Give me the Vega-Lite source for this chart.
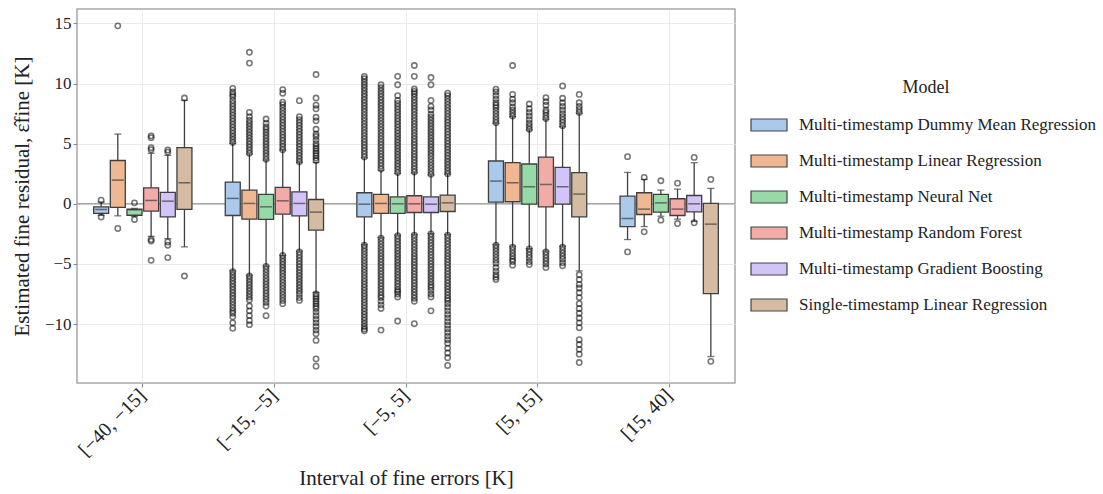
{
"$schema":"https://vega.github.io/schema/vega-lite/v6.json",
"width":658,"height":374,
"autosize":{"type":"none"},
"padding":{"left":77,"top":9,"right":368,"bottom":111},
"background":"white",
"config":{
 "font":"Liberation Serif",
 "view":{"stroke":"#a8a8a8","strokeWidth":1.5},
 "axis":{"labelFont":"Liberation Serif","titleFont":"Liberation Serif","labelColor":"#222","titleColor":"#222","titleFontWeight":"normal","gridColor":"#e6e6e6","gridWidth":0.8,"domain":false,"tickColor":"#888","tickSize":4,"labelFontSize":17,"titleFontSize":21}
},
"datasets":{
"boxes":[
{"k":"1A","interval":"[−40, −15]","model":"Multi-timestamp Dummy Mean Regression","lo":-0.95,"q1":-0.8,"med":-0.47,"q3":-0.25,"hi":0.15},
{"k":"1B","interval":"[−40, −15]","model":"Multi-timestamp Linear Regression","lo":-1.0,"q1":-0.3,"med":1.97,"q3":3.6,"hi":5.8},
{"k":"1C","interval":"[−40, −15]","model":"Multi-timestamp Neural Net","lo":-1.05,"q1":-0.95,"med":-0.5,"q3":-0.45,"hi":-0.38},
{"k":"1D","interval":"[−40, −15]","model":"Multi-timestamp Random Forest","lo":-2.7,"q1":-0.6,"med":0.28,"q3":1.33,"hi":4.2},
{"k":"1E","interval":"[−40, −15]","model":"Multi-timestamp Gradient Boosting","lo":-2.9,"q1":-1.08,"med":0.22,"q3":0.95,"hi":4.03},
{"k":"1F","interval":"[−40, −15]","model":"Single-timestamp Linear Regression","lo":-3.58,"q1":-0.47,"med":1.75,"q3":4.67,"hi":8.6},
{"k":"2A","interval":"[−15, −5]","model":"Multi-timestamp Dummy Mean Regression","lo":-5.58,"q1":-0.97,"med":0.45,"q3":1.81,"hi":5.03},
{"k":"2B","interval":"[−15, −5]","model":"Multi-timestamp Linear Regression","lo":-5.94,"q1":-1.28,"med":0.03,"q3":1.14,"hi":4.14},
{"k":"2C","interval":"[−15, −5]","model":"Multi-timestamp Neural Net","lo":-5.17,"q1":-1.3,"med":-0.25,"q3":0.78,"hi":3.64},
{"k":"2D","interval":"[−15, −5]","model":"Multi-timestamp Random Forest","lo":-4.28,"q1":-0.86,"med":0.25,"q3":1.36,"hi":4.47},
{"k":"2E","interval":"[−15, −5]","model":"Multi-timestamp Gradient Boosting","lo":-3.94,"q1":-1.0,"med":0.03,"q3":1.0,"hi":3.44},
{"k":"2F","interval":"[−15, −5]","model":"Single-timestamp Linear Regression","lo":-7.39,"q1":-2.19,"med":-0.69,"q3":0.36,"hi":3.44},
{"k":"3A","interval":"[−5, 5]","model":"Multi-timestamp Dummy Mean Regression","lo":-3.39,"q1":-1.08,"med":-0.03,"q3":0.92,"hi":3.83},
{"k":"3B","interval":"[−5, 5]","model":"Multi-timestamp Linear Regression","lo":-2.8,"q1":-0.8,"med":0.03,"q3":0.78,"hi":2.8},
{"k":"3C","interval":"[−5, 5]","model":"Multi-timestamp Neural Net","lo":-2.6,"q1":-0.8,"med":0.0,"q3":0.58,"hi":2.53},
{"k":"3D","interval":"[−5, 5]","model":"Multi-timestamp Random Forest","lo":-2.55,"q1":-0.72,"med":0.0,"q3":0.67,"hi":2.58},
{"k":"3E","interval":"[−5, 5]","model":"Multi-timestamp Gradient Boosting","lo":-2.47,"q1":-0.72,"med":-0.03,"q3":0.58,"hi":2.4},
{"k":"3F","interval":"[−5, 5]","model":"Single-timestamp Linear Regression","lo":-2.55,"q1":-0.64,"med":0.08,"q3":0.72,"hi":2.47},
{"k":"4A","interval":"[5, 15]","model":"Multi-timestamp Dummy Mean Regression","lo":-3.39,"q1":0.14,"med":1.89,"q3":3.56,"hi":6.7},
{"k":"4B","interval":"[5, 15]","model":"Multi-timestamp Linear Regression","lo":-3.53,"q1":0.17,"med":1.75,"q3":3.42,"hi":7.25},
{"k":"4C","interval":"[5, 15]","model":"Multi-timestamp Neural Net","lo":-3.72,"q1":-0.03,"med":1.42,"q3":3.31,"hi":6.14},
{"k":"4D","interval":"[5, 15]","model":"Multi-timestamp Random Forest","lo":-3.94,"q1":-0.25,"med":1.61,"q3":3.89,"hi":7.03},
{"k":"4E","interval":"[5, 15]","model":"Multi-timestamp Gradient Boosting","lo":-3.53,"q1":-0.03,"med":1.42,"q3":3.03,"hi":6.42},
{"k":"4F","interval":"[5, 15]","model":"Single-timestamp Linear Regression","lo":-5.58,"q1":-1.08,"med":0.81,"q3":2.59,"hi":7.53},
{"k":"5A","interval":"[15, 40]","model":"Multi-timestamp Dummy Mean Regression","lo":-2.97,"q1":-1.89,"med":-1.22,"q3":0.64,"hi":2.61},
{"k":"5B","interval":"[15, 40]","model":"Multi-timestamp Linear Regression","lo":-1.89,"q1":-0.89,"med":-0.44,"q3":0.92,"hi":2.03},
{"k":"5C","interval":"[15, 40]","model":"Multi-timestamp Neural Net","lo":-1.03,"q1":-0.69,"med":0.08,"q3":0.78,"hi":1.14},
{"k":"5D","interval":"[15, 40]","model":"Multi-timestamp Random Forest","lo":-1.28,"q1":-0.97,"med":-0.44,"q3":0.42,"hi":1.22},
{"k":"5E","interval":"[15, 40]","model":"Multi-timestamp Gradient Boosting","lo":-1.47,"q1":-0.67,"med":0.0,"q3":0.69,"hi":3.42},
{"k":"5F","interval":"[15, 40]","model":"Single-timestamp Linear Regression","lo":-12.7,"q1":-7.47,"med":-1.69,"q3":0.03,"hi":1.28}
],
"outl":[
{"k":"1A","v":0.3},{"k":"1A","v":-1.1},
{"k":"1B","v":14.8},{"k":"1B","v":-2.05},
{"k":"1C","v":0.08},{"k":"1C","v":-1.3},
{"k":"1D","v":5.65},{"k":"1D","v":5.5},{"k":"1D","v":4.67},{"k":"1D","v":4.5},{"k":"1D","v":-2.97},{"k":"1D","v":-3.1},{"k":"1D","v":-4.7},
{"k":"1E","v":4.47},{"k":"1E","v":4.3},{"k":"1E","v":-3.17},{"k":"1E","v":-3.44},{"k":"1E","v":-4.47},
{"k":"1F","v":8.8},{"k":"1F","v":-6.0},
{"k":"2A","v":5.1},{"k":"2A","v":5.35},{"k":"2A","v":5.6},{"k":"2A","v":5.85},{"k":"2A","v":6.1},{"k":"2A","v":6.35},{"k":"2A","v":6.6},{"k":"2A","v":6.85},{"k":"2A","v":7.1},{"k":"2A","v":7.35},{"k":"2A","v":7.6},{"k":"2A","v":7.85},{"k":"2A","v":8.1},{"k":"2A","v":8.35},{"k":"2A","v":8.6},{"k":"2A","v":8.9},{"k":"2A","v":9.1},{"k":"2A","v":9.3},{"k":"2A","v":9.6},
{"k":"2A","v":-5.65},{"k":"2A","v":-5.9},{"k":"2A","v":-6.15},{"k":"2A","v":-6.4},{"k":"2A","v":-6.65},{"k":"2A","v":-6.9},{"k":"2A","v":-7.15},{"k":"2A","v":-7.4},{"k":"2A","v":-7.65},{"k":"2A","v":-7.9},{"k":"2A","v":-8.15},{"k":"2A","v":-8.4},{"k":"2A","v":-8.65},{"k":"2A","v":-8.9},{"k":"2A","v":-9.1},{"k":"2A","v":-9.4},{"k":"2A","v":-9.9},{"k":"2A","v":-10.35},
{"k":"2B","v":4.2},{"k":"2B","v":4.45},{"k":"2B","v":4.7},{"k":"2B","v":4.95},{"k":"2B","v":5.2},{"k":"2B","v":5.45},{"k":"2B","v":5.7},{"k":"2B","v":5.95},{"k":"2B","v":6.2},{"k":"2B","v":6.45},{"k":"2B","v":6.7},{"k":"2B","v":6.95},{"k":"2B","v":7.25},{"k":"2B","v":7.6},{"k":"2B","v":11.7},{"k":"2B","v":12.6},
{"k":"2B","v":-6.0},{"k":"2B","v":-6.25},{"k":"2B","v":-6.5},{"k":"2B","v":-6.75},{"k":"2B","v":-7.0},{"k":"2B","v":-7.25},{"k":"2B","v":-7.5},{"k":"2B","v":-7.75},{"k":"2B","v":-8.0},{"k":"2B","v":-8.5},{"k":"2B","v":-8.9},{"k":"2B","v":-9.3},{"k":"2B","v":-9.7},{"k":"2B","v":-10.05},
{"k":"2C","v":3.7},{"k":"2C","v":3.95},{"k":"2C","v":4.2},{"k":"2C","v":4.45},{"k":"2C","v":4.7},{"k":"2C","v":4.95},{"k":"2C","v":5.2},{"k":"2C","v":5.45},{"k":"2C","v":5.7},{"k":"2C","v":5.95},{"k":"2C","v":6.2},{"k":"2C","v":6.4},{"k":"2C","v":6.7},{"k":"2C","v":7.05},
{"k":"2C","v":-5.2},{"k":"2C","v":-5.45},{"k":"2C","v":-5.7},{"k":"2C","v":-5.95},{"k":"2C","v":-6.2},{"k":"2C","v":-6.45},{"k":"2C","v":-6.7},{"k":"2C","v":-6.95},{"k":"2C","v":-7.2},{"k":"2C","v":-7.45},{"k":"2C","v":-7.7},{"k":"2C","v":-7.95},{"k":"2C","v":-8.2},{"k":"2C","v":-8.5},{"k":"2C","v":-9.3},
{"k":"2D","v":4.5},{"k":"2D","v":4.75},{"k":"2D","v":5.0},{"k":"2D","v":5.25},{"k":"2D","v":5.5},{"k":"2D","v":5.75},{"k":"2D","v":6.0},{"k":"2D","v":6.25},{"k":"2D","v":6.5},{"k":"2D","v":6.75},{"k":"2D","v":7.0},{"k":"2D","v":7.25},{"k":"2D","v":7.5},{"k":"2D","v":7.75},{"k":"2D","v":8.0},{"k":"2D","v":8.25},{"k":"2D","v":8.45},{"k":"2D","v":9.2},{"k":"2D","v":9.5},
{"k":"2D","v":-4.3},{"k":"2D","v":-4.55},{"k":"2D","v":-4.8},{"k":"2D","v":-5.05},{"k":"2D","v":-5.3},{"k":"2D","v":-5.55},{"k":"2D","v":-5.8},{"k":"2D","v":-6.05},{"k":"2D","v":-6.3},{"k":"2D","v":-6.55},{"k":"2D","v":-6.8},{"k":"2D","v":-7.05},{"k":"2D","v":-7.3},{"k":"2D","v":-7.55},{"k":"2D","v":-7.8},{"k":"2D","v":-8.05},{"k":"2D","v":-8.3},
{"k":"2E","v":3.5},{"k":"2E","v":3.75},{"k":"2E","v":4.0},{"k":"2E","v":4.25},{"k":"2E","v":4.5},{"k":"2E","v":4.75},{"k":"2E","v":5.0},{"k":"2E","v":5.25},{"k":"2E","v":5.5},{"k":"2E","v":5.75},{"k":"2E","v":6.0},{"k":"2E","v":6.25},{"k":"2E","v":6.5},{"k":"2E","v":6.75},{"k":"2E","v":7.0},{"k":"2E","v":7.25},{"k":"2E","v":8.58},
{"k":"2E","v":-4.0},{"k":"2E","v":-4.25},{"k":"2E","v":-4.5},{"k":"2E","v":-4.75},{"k":"2E","v":-5.0},{"k":"2E","v":-5.25},{"k":"2E","v":-5.5},{"k":"2E","v":-5.75},{"k":"2E","v":-6.0},{"k":"2E","v":-6.25},{"k":"2E","v":-6.5},{"k":"2E","v":-6.75},{"k":"2E","v":-7.0},{"k":"2E","v":-7.25},{"k":"2E","v":-7.5},{"k":"2E","v":-7.8},{"k":"2E","v":-8.03},
{"k":"2F","v":3.6},{"k":"2F","v":3.8},{"k":"2F","v":4.0},{"k":"2F","v":4.2},{"k":"2F","v":4.4},{"k":"2F","v":4.6},{"k":"2F","v":4.8},{"k":"2F","v":5.0},{"k":"2F","v":5.3},{"k":"2F","v":5.6},{"k":"2F","v":5.8},{"k":"2F","v":6.2},{"k":"2F","v":6.9},{"k":"2F","v":7.2},{"k":"2F","v":7.9},{"k":"2F","v":8.2},{"k":"2F","v":8.8},{"k":"2F","v":10.75},
{"k":"2F","v":-7.5},{"k":"2F","v":-7.7},{"k":"2F","v":-7.9},{"k":"2F","v":-8.1},{"k":"2F","v":-8.3},{"k":"2F","v":-8.5},{"k":"2F","v":-8.7},{"k":"2F","v":-9.0},{"k":"2F","v":-9.3},{"k":"2F","v":-9.6},{"k":"2F","v":-9.9},{"k":"2F","v":-10.2},{"k":"2F","v":-10.5},{"k":"2F","v":-10.8},{"k":"2F","v":-11.36},{"k":"2F","v":-12.9},{"k":"2F","v":-13.5},
{"k":"3A","v":3.9},{"k":"3A","v":4.15},{"k":"3A","v":4.4},{"k":"3A","v":4.65},{"k":"3A","v":4.9},{"k":"3A","v":5.15},{"k":"3A","v":5.4},{"k":"3A","v":5.65},{"k":"3A","v":5.9},{"k":"3A","v":6.15},{"k":"3A","v":6.4},{"k":"3A","v":6.65},{"k":"3A","v":6.9},{"k":"3A","v":7.15},{"k":"3A","v":7.4},{"k":"3A","v":7.65},{"k":"3A","v":7.9},{"k":"3A","v":8.15},{"k":"3A","v":8.4},{"k":"3A","v":8.65},{"k":"3A","v":8.9},{"k":"3A","v":9.15},{"k":"3A","v":9.4},{"k":"3A","v":9.65},{"k":"3A","v":9.9},{"k":"3A","v":10.15},{"k":"3A","v":10.4},{"k":"3A","v":10.6},
{"k":"3A","v":-3.45},{"k":"3A","v":-3.7},{"k":"3A","v":-3.95},{"k":"3A","v":-4.2},{"k":"3A","v":-4.45},{"k":"3A","v":-4.7},{"k":"3A","v":-4.95},{"k":"3A","v":-5.2},{"k":"3A","v":-5.45},{"k":"3A","v":-5.7},{"k":"3A","v":-5.95},{"k":"3A","v":-6.2},{"k":"3A","v":-6.45},{"k":"3A","v":-6.7},{"k":"3A","v":-6.95},{"k":"3A","v":-7.2},{"k":"3A","v":-7.45},{"k":"3A","v":-7.7},{"k":"3A","v":-7.95},{"k":"3A","v":-8.2},{"k":"3A","v":-8.45},{"k":"3A","v":-8.7},{"k":"3A","v":-8.95},{"k":"3A","v":-9.2},{"k":"3A","v":-9.45},{"k":"3A","v":-9.7},{"k":"3A","v":-9.95},{"k":"3A","v":-10.2},{"k":"3A","v":-10.4},{"k":"3A","v":-10.55},
{"k":"3B","v":2.9},{"k":"3B","v":3.15},{"k":"3B","v":3.4},{"k":"3B","v":3.65},{"k":"3B","v":3.9},{"k":"3B","v":4.15},{"k":"3B","v":4.4},{"k":"3B","v":4.65},{"k":"3B","v":4.9},{"k":"3B","v":5.15},{"k":"3B","v":5.4},{"k":"3B","v":5.65},{"k":"3B","v":5.9},{"k":"3B","v":6.15},{"k":"3B","v":6.4},{"k":"3B","v":6.65},{"k":"3B","v":6.9},{"k":"3B","v":7.15},{"k":"3B","v":7.4},{"k":"3B","v":7.65},{"k":"3B","v":7.9},{"k":"3B","v":8.15},{"k":"3B","v":8.4},{"k":"3B","v":8.65},{"k":"3B","v":8.9},{"k":"3B","v":9.15},{"k":"3B","v":9.4},{"k":"3B","v":9.65},{"k":"3B","v":9.9},
{"k":"3B","v":-2.85},{"k":"3B","v":-3.1},{"k":"3B","v":-3.35},{"k":"3B","v":-3.6},{"k":"3B","v":-3.85},{"k":"3B","v":-4.1},{"k":"3B","v":-4.35},{"k":"3B","v":-4.6},{"k":"3B","v":-4.85},{"k":"3B","v":-5.1},{"k":"3B","v":-5.35},{"k":"3B","v":-5.6},{"k":"3B","v":-5.85},{"k":"3B","v":-6.1},{"k":"3B","v":-6.35},{"k":"3B","v":-6.6},{"k":"3B","v":-6.85},{"k":"3B","v":-7.1},{"k":"3B","v":-7.35},{"k":"3B","v":-7.6},{"k":"3B","v":-7.8},{"k":"3B","v":-8.1},{"k":"3B","v":-8.4},{"k":"3B","v":-8.7},{"k":"3B","v":-10.5},
{"k":"3C","v":2.6},{"k":"3C","v":2.85},{"k":"3C","v":3.1},{"k":"3C","v":3.35},{"k":"3C","v":3.6},{"k":"3C","v":3.85},{"k":"3C","v":4.1},{"k":"3C","v":4.35},{"k":"3C","v":4.6},{"k":"3C","v":4.85},{"k":"3C","v":5.1},{"k":"3C","v":5.35},{"k":"3C","v":5.6},{"k":"3C","v":5.85},{"k":"3C","v":6.1},{"k":"3C","v":6.35},{"k":"3C","v":6.6},{"k":"3C","v":6.85},{"k":"3C","v":7.1},{"k":"3C","v":7.35},{"k":"3C","v":7.6},{"k":"3C","v":7.85},{"k":"3C","v":8.1},{"k":"3C","v":8.35},{"k":"3C","v":8.6},{"k":"3C","v":9.0},{"k":"3C","v":9.9},{"k":"3C","v":10.6},
{"k":"3C","v":-2.65},{"k":"3C","v":-2.9},{"k":"3C","v":-3.15},{"k":"3C","v":-3.4},{"k":"3C","v":-3.65},{"k":"3C","v":-3.9},{"k":"3C","v":-4.15},{"k":"3C","v":-4.4},{"k":"3C","v":-4.65},{"k":"3C","v":-4.9},{"k":"3C","v":-5.15},{"k":"3C","v":-5.4},{"k":"3C","v":-5.65},{"k":"3C","v":-5.9},{"k":"3C","v":-6.15},{"k":"3C","v":-6.4},{"k":"3C","v":-6.65},{"k":"3C","v":-6.9},{"k":"3C","v":-7.15},{"k":"3C","v":-7.3},{"k":"3C","v":-7.5},{"k":"3C","v":-7.75},{"k":"3C","v":-9.75},
{"k":"3D","v":2.65},{"k":"3D","v":2.9},{"k":"3D","v":3.15},{"k":"3D","v":3.4},{"k":"3D","v":3.65},{"k":"3D","v":3.9},{"k":"3D","v":4.15},{"k":"3D","v":4.4},{"k":"3D","v":4.65},{"k":"3D","v":4.9},{"k":"3D","v":5.15},{"k":"3D","v":5.4},{"k":"3D","v":5.65},{"k":"3D","v":5.9},{"k":"3D","v":6.15},{"k":"3D","v":6.4},{"k":"3D","v":6.65},{"k":"3D","v":6.9},{"k":"3D","v":7.15},{"k":"3D","v":7.4},{"k":"3D","v":7.65},{"k":"3D","v":7.9},{"k":"3D","v":8.15},{"k":"3D","v":8.4},{"k":"3D","v":8.65},{"k":"3D","v":8.9},{"k":"3D","v":9.15},{"k":"3D","v":9.35},{"k":"3D","v":9.55},{"k":"3D","v":10.6},{"k":"3D","v":11.5},
{"k":"3D","v":-2.6},{"k":"3D","v":-2.85},{"k":"3D","v":-3.1},{"k":"3D","v":-3.35},{"k":"3D","v":-3.6},{"k":"3D","v":-3.85},{"k":"3D","v":-4.1},{"k":"3D","v":-4.35},{"k":"3D","v":-4.6},{"k":"3D","v":-4.85},{"k":"3D","v":-5.1},{"k":"3D","v":-5.35},{"k":"3D","v":-5.6},{"k":"3D","v":-5.85},{"k":"3D","v":-6.1},{"k":"3D","v":-6.35},{"k":"3D","v":-6.6},{"k":"3D","v":-6.85},{"k":"3D","v":-7.1},{"k":"3D","v":-7.35},{"k":"3D","v":-7.6},{"k":"3D","v":-7.85},{"k":"3D","v":-8.1},{"k":"3D","v":-9.97},
{"k":"3E","v":2.45},{"k":"3E","v":2.7},{"k":"3E","v":2.95},{"k":"3E","v":3.2},{"k":"3E","v":3.45},{"k":"3E","v":3.7},{"k":"3E","v":3.95},{"k":"3E","v":4.2},{"k":"3E","v":4.45},{"k":"3E","v":4.7},{"k":"3E","v":4.95},{"k":"3E","v":5.2},{"k":"3E","v":5.45},{"k":"3E","v":5.7},{"k":"3E","v":5.95},{"k":"3E","v":6.2},{"k":"3E","v":6.45},{"k":"3E","v":6.7},{"k":"3E","v":6.95},{"k":"3E","v":7.2},{"k":"3E","v":7.45},{"k":"3E","v":7.8},{"k":"3E","v":8.1},{"k":"3E","v":8.6},{"k":"3E","v":9.9},{"k":"3E","v":10.5},
{"k":"3E","v":-2.5},{"k":"3E","v":-2.75},{"k":"3E","v":-3.0},{"k":"3E","v":-3.25},{"k":"3E","v":-3.5},{"k":"3E","v":-3.75},{"k":"3E","v":-4.0},{"k":"3E","v":-4.25},{"k":"3E","v":-4.5},{"k":"3E","v":-4.75},{"k":"3E","v":-5.0},{"k":"3E","v":-5.25},{"k":"3E","v":-5.5},{"k":"3E","v":-5.75},{"k":"3E","v":-6.0},{"k":"3E","v":-6.25},{"k":"3E","v":-6.5},{"k":"3E","v":-6.75},{"k":"3E","v":-6.95},{"k":"3E","v":-7.2},{"k":"3E","v":-7.5},{"k":"3E","v":-7.75},{"k":"3E","v":-8.9},
{"k":"3F","v":2.5},{"k":"3F","v":2.75},{"k":"3F","v":3.0},{"k":"3F","v":3.25},{"k":"3F","v":3.5},{"k":"3F","v":3.75},{"k":"3F","v":4.0},{"k":"3F","v":4.25},{"k":"3F","v":4.5},{"k":"3F","v":4.75},{"k":"3F","v":5.0},{"k":"3F","v":5.25},{"k":"3F","v":5.5},{"k":"3F","v":5.75},{"k":"3F","v":6.0},{"k":"3F","v":6.25},{"k":"3F","v":6.5},{"k":"3F","v":6.75},{"k":"3F","v":7.0},{"k":"3F","v":7.25},{"k":"3F","v":7.5},{"k":"3F","v":7.75},{"k":"3F","v":8.0},{"k":"3F","v":8.25},{"k":"3F","v":8.5},{"k":"3F","v":8.75},{"k":"3F","v":9.0},{"k":"3F","v":9.2},
{"k":"3F","v":-2.6},{"k":"3F","v":-2.85},{"k":"3F","v":-3.1},{"k":"3F","v":-3.35},{"k":"3F","v":-3.6},{"k":"3F","v":-3.85},{"k":"3F","v":-4.1},{"k":"3F","v":-4.35},{"k":"3F","v":-4.6},{"k":"3F","v":-4.85},{"k":"3F","v":-5.1},{"k":"3F","v":-5.35},{"k":"3F","v":-5.6},{"k":"3F","v":-5.85},{"k":"3F","v":-6.1},{"k":"3F","v":-6.35},{"k":"3F","v":-6.6},{"k":"3F","v":-6.85},{"k":"3F","v":-7.1},{"k":"3F","v":-7.35},{"k":"3F","v":-7.6},{"k":"3F","v":-7.85},{"k":"3F","v":-8.05},{"k":"3F","v":-8.3},{"k":"3F","v":-8.6},{"k":"3F","v":-8.9},{"k":"3F","v":-9.2},{"k":"3F","v":-9.5},{"k":"3F","v":-9.8},{"k":"3F","v":-10.1},{"k":"3F","v":-10.4},{"k":"3F","v":-10.7},{"k":"3F","v":-11.0},{"k":"3F","v":-11.3},{"k":"3F","v":-11.6},{"k":"3F","v":-12.0},{"k":"3F","v":-12.4},{"k":"3F","v":-12.8},{"k":"3F","v":-13.44},
{"k":"4A","v":6.75},{"k":"4A","v":7.0},{"k":"4A","v":7.25},{"k":"4A","v":7.5},{"k":"4A","v":7.75},{"k":"4A","v":8.0},{"k":"4A","v":8.2},{"k":"4A","v":8.4},{"k":"4A","v":8.7},{"k":"4A","v":9.0},{"k":"4A","v":9.3},{"k":"4A","v":9.53},
{"k":"4A","v":-3.45},{"k":"4A","v":-3.7},{"k":"4A","v":-3.95},{"k":"4A","v":-4.2},{"k":"4A","v":-4.45},{"k":"4A","v":-4.7},{"k":"4A","v":-4.95},{"k":"4A","v":-5.3},{"k":"4A","v":-5.6},{"k":"4A","v":-5.9},{"k":"4A","v":-6.1},{"k":"4A","v":-6.3},
{"k":"4B","v":7.3},{"k":"4B","v":7.55},{"k":"4B","v":7.8},{"k":"4B","v":8.05},{"k":"4B","v":8.4},{"k":"4B","v":8.7},{"k":"4B","v":9.1},{"k":"4B","v":11.5},
{"k":"4B","v":-3.6},{"k":"4B","v":-3.85},{"k":"4B","v":-4.1},{"k":"4B","v":-4.35},{"k":"4B","v":-4.6},{"k":"4B","v":-4.8},{"k":"4B","v":-5.1},
{"k":"4C","v":6.2},{"k":"4C","v":6.45},{"k":"4C","v":6.7},{"k":"4C","v":7.0},{"k":"4C","v":7.3},{"k":"4C","v":7.6},{"k":"4C","v":7.9},{"k":"4C","v":8.3},
{"k":"4C","v":-3.75},{"k":"4C","v":-4.0},{"k":"4C","v":-4.25},{"k":"4C","v":-4.5},{"k":"4C","v":-4.8},{"k":"4C","v":-5.05},
{"k":"4D","v":7.1},{"k":"4D","v":7.35},{"k":"4D","v":7.6},{"k":"4D","v":7.8},{"k":"4D","v":8.2},{"k":"4D","v":8.5},{"k":"4D","v":8.83},
{"k":"4D","v":-4.0},{"k":"4D","v":-4.25},{"k":"4D","v":-4.5},{"k":"4D","v":-4.75},{"k":"4D","v":-5.0},{"k":"4D","v":-5.3},
{"k":"4E","v":6.5},{"k":"4E","v":6.75},{"k":"4E","v":7.0},{"k":"4E","v":7.25},{"k":"4E","v":7.5},{"k":"4E","v":7.8},{"k":"4E","v":8.1},{"k":"4E","v":8.4},{"k":"4E","v":8.78},{"k":"4E","v":9.8},
{"k":"4E","v":-3.6},{"k":"4E","v":-3.85},{"k":"4E","v":-4.1},{"k":"4E","v":-4.35},{"k":"4E","v":-4.6},{"k":"4E","v":-4.9},{"k":"4E","v":-5.16},
{"k":"4F","v":7.6},{"k":"4F","v":7.85},{"k":"4F","v":8.1},{"k":"4F","v":8.4},{"k":"4F","v":9.1},
{"k":"4F","v":-5.9},{"k":"4F","v":-6.3},{"k":"4F","v":-6.7},{"k":"4F","v":-7.0},{"k":"4F","v":-7.4},{"k":"4F","v":-7.8},{"k":"4F","v":-8.3},{"k":"4F","v":-8.7},{"k":"4F","v":-9.1},{"k":"4F","v":-9.5},{"k":"4F","v":-9.9},{"k":"4F","v":-10.3},{"k":"4F","v":-11.3},{"k":"4F","v":-11.7},{"k":"4F","v":-12.1},{"k":"4F","v":-12.5},{"k":"4F","v":-13.2},
{"k":"5A","v":3.92},{"k":"5A","v":-4.0},
{"k":"5B","v":2.2},{"k":"5B","v":-2.33},
{"k":"5C","v":1.92},{"k":"5C","v":-1.36},
{"k":"5D","v":1.72},{"k":"5D","v":-1.64},
{"k":"5E","v":3.86},{"k":"5E","v":-1.58},
{"k":"5F","v":2.03},{"k":"5F","v":-13.1}
]
},
"layer":[
{"data":{"values":[{"z":0}]},
 "mark":{"type":"rule","color":"#a8a8a8","strokeWidth":1.6},
 "encoding":{"y":{"field":"z","type":"quantitative","title":"Estimated fine residual, ε̂fine [K]","scale":{"domain":[-14.9,16.2],"nice":false,"zero":false}}}},
{"data":{"name":"boxes"},
 "encoding":{
  "x":{"field":"interval","type":"nominal","sort":["[−40, −15]","[−15, −5]","[−5, 5]","[5, 15]","[15, 40]"],"scale":{"paddingInner":0,"paddingOuter":0},
       "axis":{"title":"Interval of fine errors [K]","labelAngle":-45,"labelAlign":"right","labelBaseline":"middle","labelFontSize":20,"bandPosition":0.5,"grid":true,"titlePadding":8,"titleFontSize":21,"labelPadding":5}},
  "xOffset":{"field":"model","type":"nominal","sort":["Multi-timestamp Dummy Mean Regression","Multi-timestamp Linear Regression","Multi-timestamp Neural Net","Multi-timestamp Random Forest","Multi-timestamp Gradient Boosting","Single-timestamp Linear Regression"],"scale":{"paddingInner":0.1,"paddingOuter":2}}
 },
 "layer":[
  {"mark":{"type":"rule","color":"#3f3f3f","strokeWidth":1.3},
   "encoding":{"y":{"field":"lo","type":"quantitative","title":"Estimated fine residual, ε̂fine [K]","scale":{"domain":[-14.9,16.2],"nice":false,"zero":false}},"y2":{"field":"q1"}}},
  {"mark":{"type":"rule","color":"#3f3f3f","strokeWidth":1.3},
   "encoding":{"y":{"field":"q3","type":"quantitative","title":"Estimated fine residual, ε̂fine [K]","scale":{"domain":[-14.9,16.2],"nice":false,"zero":false}},"y2":{"field":"hi"}}},
  {"mark":{"type":"bar","stroke":"#3f3f3f","strokeWidth":1.3,"opacity":1},
   "encoding":{
    "y":{"field":"q1","type":"quantitative","title":"Estimated fine residual, ε̂fine [K]","scale":{"domain":[-14.9,16.2],"nice":false,"zero":false},"axis":{"values":[-10,-5,0,5,10,15],"grid":true,"titlePadding":12}},
    "y2":{"field":"q3"},
    "color":{"field":"model","type":"nominal","scale":{"domain":["Multi-timestamp Dummy Mean Regression","Multi-timestamp Linear Regression","Multi-timestamp Neural Net","Multi-timestamp Random Forest","Multi-timestamp Gradient Boosting","Single-timestamp Linear Regression"],"range":["#abc9ea","#efb792","#98daa7","#f3aba8","#d3c4f7","#d6bba3"]},
     "legend":{"title":"Model","orient":"none","legendX":679,"legendY":70,"padding":0,"titleAnchor":"middle","titleFont":"Liberation Serif","titleFontSize":18,"titleFontWeight":"normal","titleColor":"#222","titlePadding":15,"labelFont":"Liberation Serif","labelFontSize":17,"labelColor":"#222","labelOffset":17,"labelLimit":450,"symbolType":"M-1.5,-0.5H1.5V0.5H-1.5Z","symbolSize":576,"symbolStrokeColor":"#444","symbolStrokeWidth":1.2,"symbolOpacity":1,"rowPadding":14}}
   }},
  {"mark":{"type":"tick","color":"#3f3f3f","size":12,"thickness":1.5},
   "encoding":{"y":{"field":"med","type":"quantitative","title":"Estimated fine residual, ε̂fine [K]","scale":{"domain":[-14.9,16.2],"nice":false,"zero":false}}}},
  {"mark":{"type":"tick","color":"#3f3f3f","size":7,"thickness":1.3},
   "encoding":{"y":{"field":"lo","type":"quantitative","title":"Estimated fine residual, ε̂fine [K]","scale":{"domain":[-14.9,16.2],"nice":false,"zero":false}}}},
  {"mark":{"type":"tick","color":"#3f3f3f","size":7,"thickness":1.3},
   "encoding":{"y":{"field":"hi","type":"quantitative","title":"Estimated fine residual, ε̂fine [K]","scale":{"domain":[-14.9,16.2],"nice":false,"zero":false}}}},
  {"data":{"name":"outl"},
   "transform":[{"lookup":"k","from":{"data":{"name":"boxes"},"key":"k","fields":["interval","model"]}}],
   "mark":{"type":"point","shape":"circle","filled":false,"size":28,"stroke":"#000","strokeOpacity":0.75,"strokeWidth":1.6},
   "encoding":{"y":{"field":"v","type":"quantitative","title":"Estimated fine residual, ε̂fine [K]","scale":{"domain":[-14.9,16.2],"nice":false,"zero":false}}}}
 ]}
]
}
